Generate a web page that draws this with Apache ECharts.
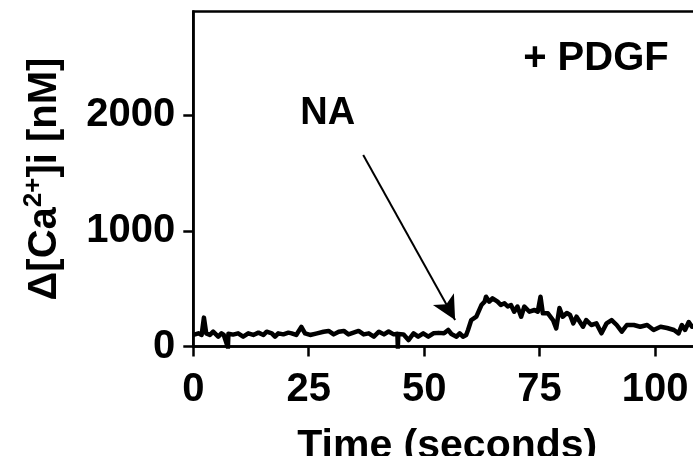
<!DOCTYPE html>
<html><head><meta charset="utf-8">
<script src="https://cdn.jsdelivr.net/npm/echarts@6/dist/echarts.min.js"></script>
<style>html,body{margin:0;padding:0;background:#fff}#c{width:693px;height:456px}</style>
</head><body><div id="c"></div>
<script>
const time = [0,0.4,1.1,1.8,2.3,2.8,3.6,4.3,5.4,6.1,
  6.6,7.5,7.6,8.6,9.7,10.8,11.9,13,14.1,15.2,
  15.9,17,17.7,18.4,19.5,20.6,21.3,22.3,23.4,24.2,
  25.3,26.8,28.2,29.3,30.4,31.5,32.6,33.6,34.7,35.8,
  36.9,38,39.1,40.2,41.3,42.3,43.4,44.2,44.3,44.4,
  45.5,46.6,47.7,48.7,49.8,50.9,52,53.1,54.3,55.2,
  55.9,57,57.7,58.4,59.1,59.5,60.2,61.3,62.4,63.1,
  63.4,64.1,64.8,65.9,66.6,67.4,68.1,68.8,69.5,70.2,
  71,71.7,72.8,73.9,74.6,75.2,75.7,76.8,77.9,78.6,
  79.3,80,80.9,81.6,82.3,83,83.7,84.4,85.1,86.2,
  87.3,88.4,89.5,90.6,91.7,92.8,93.9,95.4,96.8,98.3,
  99.7,101.2,102.6,104.1,105.1,105.8,106.5,107.3,108,109,
  110];
const calcium = [100,85,114,100,250,114,100,128,85,114,
  100,-10,110,103,114,85,114,100,120,100,
  128,114,85,114,105,120,114,100,170,114,
  100,114,128,135,105,128,135,105,120,135,
  105,114,85,128,105,130,105,110,-10,108,
  105,56,114,85,114,85,114,118,114,143,
  108,85,114,85,100,143,229,258,359,388,
  431,388,417,388,359,374,346,359,301,346,
  258,346,301,316,301,431,287,287,229,157,
  333,258,290,273,200,258,215,171,229,186,
  200,114,200,229,186,128,186,186,171,186,
  143,171,160,143,114,186,143,212,171,180,
  165];
const xTicks = [0,25,50,75,100];
const yTicks = [0,1000,2000];
const xRange = [0,110];
const yRange = [0,2900];
const arrowFrom = [36.8,1658];
const arrowTo = [56.7,229];
const labelNA = {text:'NA', at:[29.1,2015]};
const labelPDGF = {text:'+ PDGF', at:[87.2,2490]};

const FONT = '"Liberation Sans", Arial, sans-serif';
const chart = echarts.init(document.getElementById('c'), null, {renderer:'canvas'});
const txt = (p, size) => ({
  show:true, position:'inside', formatter:p.text, color:'#000',
  fontFamily:FONT, fontWeight:'bold', fontSize:size
});
chart.setOption({
  animation:false,
  backgroundColor:'#fff',
  grid:{left:193.3, top:11.5, right:-8.2, bottom:109.5, containLabel:false, outerBoundsMode:'none',
    show:true, borderColor:'#000', borderWidth:2.5},
  xAxis:{
    type:'value', min:xRange[0], max:xRange[1], interval:25,
    name:'Time (seconds)', nameLocation:'middle', nameGap:80,
    nameTextStyle:{fontFamily:FONT, fontWeight:'bold', fontSize:41, color:'#000'},
    axisLine:{show:true, lineStyle:{color:'#000', width:2.5}},
    axisTick:{show:true, length:10, lineStyle:{color:'#000', width:2.5}, customValues:xTicks},
    axisLabel:{fontFamily:FONT, fontWeight:'bold', fontSize:40, color:'#000', margin:23, customValues:xTicks,
      formatter:v=>String(v)},
    splitLine:{show:false}
  },
  yAxis:{
    type:'value', min:yRange[0], max:yRange[1], interval:1000,
    name:'{b|Δ[Ca}{s|2+}{b|]i [nM]}', nameLocation:'middle', nameGap:128,
    nameTextStyle:{color:'#000', rich:{
      b:{fontFamily:FONT, fontWeight:'bold', fontSize:40, color:'#000', lineHeight:44, verticalAlign:'bottom'},
      s:{fontFamily:FONT, fontWeight:'bold', fontSize:26, color:'#000', lineHeight:44, verticalAlign:'top', padding:[0,0,16,0]}
    }},
    axisLine:{show:true, lineStyle:{color:'#000', width:2.5}},
    axisTick:{show:true, length:10, lineStyle:{color:'#000', width:2.5}, customValues:yTicks},
    axisLabel:{fontFamily:FONT, fontWeight:'bold', fontSize:40, color:'#000', margin:18, customValues:yTicks,
      formatter:v=>String(v)},
    splitLine:{show:false}
  },
  series:[{
    type:'line', data:time.map((t,i)=>[t,calcium[i]]),
    showSymbol:false, symbol:'none', clip:true,
    lineStyle:{color:'#000', width:4.5, join:'round'},
    markLine:{
      silent:true, symbol:['none','arrow'], symbolSize:[18,24],
      label:{show:false},
      lineStyle:{color:'#000', width:2, type:'solid'},
      data:[[{coord:arrowFrom},{coord:arrowTo}]]
    },
    markPoint:{
      silent:true, symbol:'rect', symbolSize:1, itemStyle:{color:'rgba(0,0,0,0)'},
      data:[
        {coord:labelNA.at, label:txt(labelNA,38)},
        {coord:labelPDGF.at, label:txt(labelPDGF,40)}
      ]
    }
  }]
});
</script></body></html>
